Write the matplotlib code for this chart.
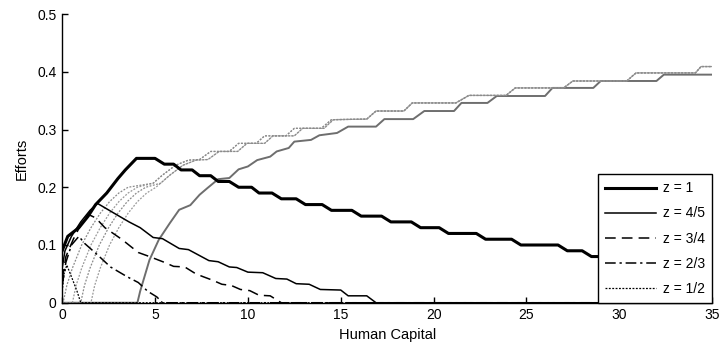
import matplotlib
matplotlib.use("Agg")
import matplotlib.pyplot as plt

plt.rcParams['font.family'] = ['Liberation Sans', 'DejaVu Sans']

# EFFORT ON FIRST ACTIVITY (BLACK, DECREASING)
z1_x = [0, 0.3, 0.9, 1.4, 1.8, 2.4, 3.0, 3.4, 4.0, 5.0, 5.5, 6.0, 6.4, 7.0, 7.4, 8.0, 8.4, 9.0, 9.5, 10.2,
        10.6, 11.3, 11.8, 12.6, 13.1, 14.0, 14.5, 15.6, 16.1, 17.2, 17.7, 18.8, 19.3, 20.3, 20.8, 22.3,
        22.8, 24.2, 24.7, 26.7, 27.2, 28.0, 28.5, 35]
z1_y = [0.09, 0.115, 0.13, 0.15, 0.17, 0.19, 0.215, 0.23, 0.25, 0.25, 0.24, 0.24, 0.23, 0.23, 0.22, 0.22,
        0.21, 0.21, 0.20, 0.20, 0.19, 0.19, 0.18, 0.18, 0.17, 0.17, 0.16, 0.16, 0.15, 0.15, 0.14, 0.14,
        0.13, 0.13, 0.12, 0.12, 0.11, 0.11, 0.10, 0.10, 0.09, 0.09, 0.08, 0.08]

z45_x = [0, 0.15, 0.5, 1.0, 1.5, 1.9, 2.8, 3.6, 4.2, 4.9, 5.4, 6.3, 6.8, 7.9, 8.4, 9.0, 9.4, 10.0, 10.8,
         11.5, 12.1, 12.6, 13.3, 13.9, 15.0, 15.4, 16.4, 16.9, 35]
z45_y = [0.06, 0.09, 0.115, 0.14, 0.16, 0.172, 0.155, 0.14, 0.13, 0.113, 0.111, 0.094, 0.092, 0.073, 0.071,
         0.062, 0.061, 0.053, 0.052, 0.042, 0.041, 0.033, 0.032, 0.023, 0.022, 0.012, 0.012, 0.0, 0.0]

z34_x = [0, 0.2, 0.6, 1.0, 1.4, 1.8, 2.3, 3.2, 4.1, 4.7, 5.5, 6.0, 6.6, 7.2, 7.6, 8.1, 8.6, 9.1, 9.6,
         10.1, 10.6, 11.2, 11.8, 35]
z34_y = [0.04, 0.08, 0.11, 0.135, 0.153, 0.147, 0.13, 0.11, 0.087, 0.08, 0.07, 0.063, 0.062, 0.05, 0.045,
         0.039, 0.032, 0.03, 0.023, 0.021, 0.013, 0.012, 0.0, 0.0]

z23_x = [0, 0.2, 0.5, 0.9, 1.2, 1.9, 2.6, 3.5, 4.1, 4.6, 5.1, 5.4, 35]
z23_y = [0.03, 0.07, 0.10, 0.115, 0.103, 0.083, 0.062, 0.045, 0.035, 0.02, 0.01, 0.0, 0.0]

z12_x = [0, 0.1, 0.25, 0.5, 0.8, 1.0, 35]
z12_y = [0.02, 0.05, 0.065, 0.045, 0.02, 0.0, 0.0]

# EFFORT ON SECOND ACTIVITY (GRAY, INCREASING)
g1_x = [0, 4.05, 4.2, 4.7, 5.2, 5.8, 6.3, 6.9, 7.4, 7.8, 8.4, 9.0, 9.5, 10.0, 10.5, 11.2, 11.55, 12.2,
        12.5, 13.4, 13.85, 14.8, 15.4, 16.9, 17.35, 18.9, 19.5, 21.1, 21.5, 22.9, 23.4, 26.0, 26.4, 28.6,
        29.0, 32.0, 32.4, 35]
g1_y = [0, 0, 0.02, 0.074, 0.109, 0.138, 0.161, 0.169, 0.187, 0.198, 0.214, 0.216, 0.231, 0.236, 0.247,
        0.253, 0.262, 0.268, 0.279, 0.282, 0.29, 0.294, 0.305, 0.305, 0.318, 0.318, 0.332, 0.332, 0.346,
        0.346, 0.358, 0.358, 0.372, 0.372, 0.384, 0.384, 0.395, 0.395]

g45_x = [0, 1.55, 1.75, 2.05, 2.55, 3.05, 3.55, 4.05, 4.55, 5.05, 5.8, 6.5, 7.2, 7.85, 8.45, 9.45, 9.95,
         10.9, 11.35, 12.5, 12.95, 14.1, 14.6, 16.4, 16.9, 18.4, 18.85, 21.2, 21.9, 23.9, 24.4, 27.0, 27.5,
         30.4, 30.9, 34.1, 34.4, 35]
g45_y = [0, 0, 0.03, 0.06, 0.10, 0.13, 0.155, 0.175, 0.19, 0.20, 0.221, 0.238, 0.247, 0.248, 0.262,
         0.262, 0.276, 0.276, 0.289, 0.289, 0.302, 0.302, 0.317, 0.318, 0.332, 0.332, 0.346, 0.346, 0.359,
         0.359, 0.372, 0.372, 0.384, 0.384, 0.398, 0.398, 0.409, 0.409]

g34_x = [0, 1.0, 1.2, 1.5, 2.0, 2.5, 3.0, 3.5, 4.0, 4.5, 5.3, 5.8, 6.5, 7.2, 7.85, 8.45, 9.45, 9.95,
         10.9, 11.35, 12.5, 12.95, 14.1, 14.6, 16.4, 16.9, 18.4, 18.85, 21.2, 21.9, 23.9, 24.4, 27.0, 27.5,
         30.4, 30.9, 34.1, 34.4, 35]
g34_y = [0, 0, 0.03, 0.06, 0.10, 0.13, 0.155, 0.175, 0.19, 0.20, 0.207, 0.221, 0.238, 0.247, 0.248, 0.262,
         0.262, 0.276, 0.276, 0.289, 0.289, 0.302, 0.302, 0.317, 0.318, 0.332, 0.332, 0.346, 0.346, 0.359,
         0.359, 0.372, 0.372, 0.384, 0.384, 0.398, 0.398, 0.409, 0.409]

g23_x = [0, 0.55, 0.75, 1.05, 1.55, 2.05, 2.55, 3.05, 3.55, 4.05, 4.9, 5.4, 6.1, 6.8, 7.4, 8.0, 9.0, 9.5,
         10.45, 10.9, 12.05, 12.5, 13.95, 14.5, 16.4, 16.9, 18.4, 18.85, 21.2, 21.9, 23.9, 24.4, 27.0, 27.5,
         30.4, 30.9, 34.1, 34.4, 35]
g23_y = [0, 0, 0.03, 0.06, 0.10, 0.13, 0.155, 0.175, 0.19, 0.20, 0.207, 0.221, 0.238, 0.247, 0.248, 0.262,
         0.262, 0.276, 0.276, 0.289, 0.289, 0.302, 0.302, 0.317, 0.318, 0.332, 0.332, 0.346, 0.346, 0.359,
         0.359, 0.372, 0.372, 0.384, 0.384, 0.398, 0.398, 0.409, 0.409]

g12_x = [0, 0.05, 0.25, 0.55, 1.05, 1.55, 2.05, 2.55, 3.05, 3.55, 4.9, 5.4, 6.1, 6.8, 7.4, 8.0, 9.0, 9.5,
         10.45, 10.9, 12.05, 12.5, 13.95, 14.5, 16.4, 16.9, 18.4, 18.85, 21.2, 21.9, 23.9, 24.4, 27.0, 27.5,
         30.4, 30.9, 34.1, 34.4, 35]
g12_y = [0, 0, 0.03, 0.06, 0.10, 0.13, 0.155, 0.175, 0.19, 0.20, 0.207, 0.221, 0.238, 0.247, 0.248, 0.262,
         0.262, 0.276, 0.276, 0.289, 0.289, 0.302, 0.302, 0.317, 0.318, 0.332, 0.332, 0.346, 0.346, 0.359,
         0.359, 0.372, 0.372, 0.384, 0.384, 0.398, 0.398, 0.409, 0.409]

labels = ['z = 1', 'z = 4/5', 'z = 3/4', 'z = 2/3', 'z = 1/2']

fig = plt.figure(figsize=(7.23, 3.5), dpi=100)
ax = fig.add_axes([0.086, 0.135, 0.899, 0.825])

dashed = (0, (7, 4))
dashdot = (0, (7, 2.5, 1.5, 2.5))
dotted = (0, (1.5, 1.2))

# GRAY CURVES FIRST
ax.plot(g1_x, g1_y, color='#6e6e6e', lw=1.4, ls='-')
ax.plot(g45_x, g45_y, color='#9a9a9a', lw=0.9, ls=dotted)
ax.plot(g34_x, g34_y, color='#8a8a8a', lw=0.9, ls=dotted)
ax.plot(g23_x, g23_y, color='#9a9a9a', lw=0.9, ls=dotted)
ax.plot(g12_x, g12_y, color='#8a8a8a', lw=0.9, ls=dotted)

# BLACK CURVES
ax.plot(z1_x, z1_y, color='black', lw=2.2, ls='-', label=labels[0])
ax.plot(z45_x, z45_y, color='black', lw=1.1, ls='-', label=labels[1])
ax.plot(z34_x, z34_y, color='black', lw=1.1, ls=dashed, label=labels[2])
ax.plot(z23_x, z23_y, color='black', lw=1.1, ls=dashdot, label=labels[3])
ax.plot(z12_x, z12_y, color='black', lw=0.9, ls=dotted, label=labels[4])

ax.set_xlim(0, 35)
ax.set_ylim(0, 0.5)
ax.set_xticks([0, 5, 10, 15, 20, 25, 30, 35])
ax.set_yticks([0, 0.1, 0.2, 0.3, 0.4, 0.5])
ax.set_yticklabels(['0', '0.1', '0.2', '0.3', '0.4', '0.5'])
ax.spines['top'].set_visible(False)
ax.spines['right'].set_visible(False)
ax.spines['left'].set_linewidth(1.0)
ax.spines['bottom'].set_linewidth(1.0)
ax.tick_params(direction='in', length=4, width=1, labelsize=10, pad=4)
ax.set_xlabel('Human Capital', fontsize=10.5, labelpad=4)
ax.set_ylabel('Efforts', fontsize=10.5, labelpad=6)

leg = ax.legend(loc='lower right', fontsize=10, frameon=True, fancybox=False, borderaxespad=0,
                handlelength=3.7, labelspacing=0.8, borderpad=0.5, handletextpad=0.5)
leg.get_frame().set_edgecolor('black')
leg.get_frame().set_linewidth(1.0)
leg.get_frame().set_alpha(1)

fig.savefig('out.png', dpi=100)
